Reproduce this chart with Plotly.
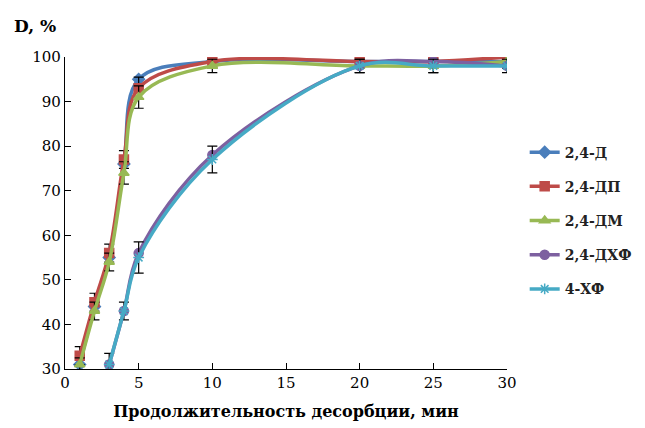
import plotly.graph_objects as go

t_fast = [1, 2, 3, 4, 5, 10, 20, 25, 30]
t_slow = [3, 4, 5, 10, 20, 25, 30]

d_24D = [31, 44, 55, 76, 95, 99, 99, 99, 99]
d_24DP = [33, 45, 56, 77, 93, 99, 99, 99, 100]
d_24DM = [31, 43, 54, 74, 91, 98, 98, 98, 99]
d_24DHF = [31, 43, 56, 78, 98, 99, 98]
d_4HF = [31, 43, 55, 77, 98, 98, 98]

err_24DP = [2, 2, 2, 2, 2.5, 1.5, 1.5, 1.5, 1.5]
err_24DM = [1.5, 2, 2, 2.5, 2.5, 1.5, 1.5, 1.5, 1.5]
err_4HF = [2.5, 2, 3.5, 3, 1.5, 1.5, 1.5]

names = ["2,4-Д", "2,4-ДП", "2,4-ДМ", "2,4-ДХФ", "4-ХФ"]
colors = ["#4A7EBB", "#BE4B48", "#98B954", "#7D60A0", "#46AAC5"]
symbols = ["diamond", "square", "triangle-up", "circle", "asterisk-open"]

series = [
    (t_fast, d_24D, None),
    (t_fast, d_24DP, err_24DP),
    (t_fast, d_24DM, err_24DM),
    (t_slow, d_24DHF, None),
    (t_slow, d_4HF, err_4HF),
]

serif = "DejaVu Serif"
fig = go.Figure()
for (x, y, e), n, c, s in zip(series, names, colors, symbols):
    kw = {}
    if e is not None:
        kw["error_y"] = dict(type="data", array=e, visible=True, color="black",
                             thickness=1.2, width=5)
    fig.add_trace(go.Scatter(
        x=x, y=y, name="<b>" + n + "</b>", mode="lines+markers", legendgroup=n,
        line=dict(color=c, width=3.5, shape="spline", smoothing=1.0),
        marker=dict(symbol=s, size=9, color=c, line=dict(color=c, width=1.5)),
        **kw))

fig.update_layout(
    width=645, height=428,
    margin=dict(l=57, r=146, t=49, b=67, autoexpand=False),
    paper_bgcolor="white", plot_bgcolor="white",
    font=dict(family=serif, size=15, color="black"),
    showlegend=True,
    legend=dict(x=1.04, y=0.745, xanchor="left", yanchor="top",
                font=dict(family=serif, size=14, color="#222"),
                tracegroupgap=13, itemwidth=30, bgcolor="rgba(0,0,0,0)"),
    xaxis=dict(range=[0, 30], tickvals=[0, 5, 10, 15, 20, 25, 30],
               showline=True, linecolor="black", linewidth=1.2,
               ticks="inside", ticklen=6, tickcolor="black", showgrid=False,
               zeroline=False, tickfont=dict(family=serif, size=15),
               title=dict(text="<b>Продолжительность десорбции, мин</b>",
                          font=dict(family=serif, size=16), standoff=14)),
    yaxis=dict(range=[30, 100], tickvals=[30, 40, 50, 60, 70, 80, 90, 100],
               showline=True, linecolor="black", linewidth=1.2,
               ticks="inside", ticklen=6, tickcolor="black", showgrid=False,
               zeroline=False, tickfont=dict(family=serif, size=15)),
)
fig.add_annotation(text="<b>D, %</b>", xref="paper", yref="paper",
                   x=-0.12, y=1.10, xanchor="left", yanchor="middle",
                   showarrow=False, font=dict(family=serif, size=17))

fig.write_html("out.html")
